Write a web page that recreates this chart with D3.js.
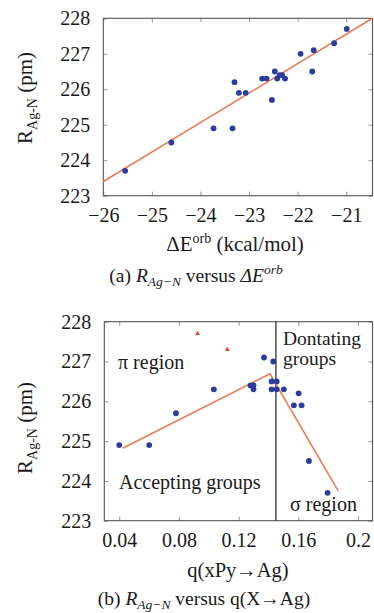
<!DOCTYPE html>
<html><head><meta charset="utf-8">
<script src="https://cdn.jsdelivr.net/npm/d3@7/dist/d3.min.js"></script>
<style>
html,body{margin:0;padding:0;background:#fff;}
</style></head>
<body>
<script>
// ---------- Panel (a) data ----------
const dEorb = [-25.55,-24.6,-23.73,-23.34,-23.3,-23.21,-23.07,-22.73,-22.64,-22.53,-22.47,-22.42,-22.37,-22.32,-22.26,-21.94,-21.7,-21.67,-21.25,-20.99];
const rA    = [223.7,224.5,224.9,224.9,226.2,225.9,225.9,226.3,226.3,225.7,226.5,226.3,226.4,226.4,226.3,227.0,226.5,227.1,227.3,227.7];
const fitAx = [-26, -20.46];
const fitAy = [223.4, 228.0];
const xTicksA = [-26,-25,-24,-23,-22,-21];
const yTicks = [223,224,225,226,227,228];

// ---------- Panel (b) data ----------
const qB = [0.04,0.0601,0.078,0.1034,0.128,0.130,0.130,0.137,0.1432,0.1421,0.1455,0.1421,0.1455,0.1503,0.1602,0.157,0.1622,0.1671,0.1796];
const rB = [224.9,224.9,225.7,226.3,226.4,226.4,226.3,227.1,227.0,226.5,226.5,226.3,226.3,226.3,226.2,225.9,225.9,224.5,223.7];
const qRed = [0.0925,0.1124];
const rRed = [227.7,227.3];
const fitBx = [0.0423,0.141,0.1867];
const fitBy = [224.82,226.69,223.75];
const divider = 0.145;
const xTicksB = [0.04,0.08,0.12,0.16,0.2];
const xTickLabelsB = ["0.04","0.08","0.12","0.16","0.2"];

const W=374,H=613;
const FONT='"Liberation Serif"';
const svg=d3.select("body").append("svg").attr("width",W).attr("height",H);

const BLUE="#2b3c9c", ORANGE="#ee7a55", RED="#e6452b";

function frame(g,x,y,xt,xfmt,box){
  const L=box.l,R=box.r,T=box.t,B=box.b;
  const axB=g.append("g").attr("transform",`translate(0,${B})`)
    .call(d3.axisBottom(x).tickValues(xt).tickSize(-4).tickPadding(12.5).tickFormat(xfmt));
  const axT=g.append("g").attr("transform",`translate(0,${T})`)
    .call(d3.axisTop(x).tickValues(xt).tickSize(-4).tickFormat(""));
  const axL=g.append("g").attr("transform",`translate(${L},0)`)
    .call(d3.axisLeft(y).tickValues(yTicks).tickSize(-4).tickPadding(13).tickFormat(d3.format("d")));
  const axR=g.append("g").attr("transform",`translate(${R},0)`)
    .call(d3.axisRight(y).tickValues(yTicks).tickSize(-4).tickFormat(""));
  [axB,axT,axL,axR].forEach(a=>{
    a.select(".domain").remove();
    a.attr("font-family",null).attr("font-size",null);
    a.selectAll(".tick line").attr("stroke","#777").attr("stroke-width",0.8);
    a.selectAll("text").attr("font-size",20);
  });
  g.append("rect").attr("x",L).attr("y",T).attr("width",R-L).attr("height",B-T)
    .attr("fill","none").attr("stroke","#555").attr("stroke-width",1.1);
  return axB;
}

function ylabel(g,cx,cy){
  const t=g.append("text").attr("transform",`translate(${cx},${cy}) rotate(-90)`)
    .attr("text-anchor","middle").attr("font-size",21);
  t.append("tspan").text("R");
  t.append("tspan").attr("font-size",14).attr("dy",5).text("Ag-N");
  t.append("tspan").attr("dy",-5).text(" (pm)");
}

// ===== Panel (a) =====
const boxA={l:103.3,r:372.5,t:18.3,b:195.7};
const xA=d3.scaleLinear().domain([-26,-20.46]).range([boxA.l,boxA.r]);
const yA=d3.scaleLinear().domain([223,228]).range([boxA.b,boxA.t]);
const gA=svg.append("g");
frame(gA,xA,yA,xTicksA,d3.format("d"),boxA);
gA.append("path").datum(d3.zip(fitAx,fitAy))
  .attr("d",d3.line().x(d=>xA(d[0])).y(d=>yA(d[1])))
  .attr("stroke",ORANGE).attr("stroke-width",1.6).attr("fill","none");
gA.selectAll("circle.pa").data(d3.zip(dEorb,rA)).join("circle")
  .attr("cx",d=>xA(d[0])).attr("cy",d=>yA(d[1])).attr("r",2.9).attr("fill",BLUE);
ylabel(gA,32,98);
{
  const t=gA.append("text").attr("x",235).attr("y",251).attr("text-anchor","middle").attr("font-size",21);
  t.append("tspan").text("ΔE");
  t.append("tspan").attr("font-size",14).attr("dy",-8).text("orb");
  t.append("tspan").attr("dy",8).text(" (kcal/mol)");
  const c=gA.append("text").attr("x",196).attr("y",282).attr("text-anchor","middle").attr("font-size",19.5);
  c.append("tspan").text("(a) ");
  c.append("tspan").attr("font-style","italic").text("R");
  c.append("tspan").attr("font-style","italic").attr("font-size",13.5).attr("dy",4).text("Ag−N");
  c.append("tspan").attr("dy",-4).text(" versus ");
  c.append("tspan").attr("font-style","italic").text("ΔE");
  c.append("tspan").attr("font-style","italic").attr("font-size",13.5).attr("dy",-8).text("orb");
}

// ===== Panel (b) =====
const boxB={l:104.3,r:372.5,t:321.7,b:520.7};
const xB=d3.scaleLinear().domain([0.03,0.2097]).range([boxB.l,boxB.r]);
const yB=d3.scaleLinear().domain([223,228]).range([boxB.b,boxB.t]);
const gB=svg.append("g");
frame(gB,xB,yB,xTicksB,(d,i)=>xTickLabelsB[i],boxB);
gB.append("line").attr("x1",xB(divider)).attr("x2",xB(divider)).attr("y1",boxB.t).attr("y2",boxB.b)
  .attr("stroke","#333").attr("stroke-width",1.3);
gB.append("path").datum(d3.zip(fitBx,fitBy))
  .attr("d",d3.line().x(d=>xB(d[0])).y(d=>yB(d[1])))
  .attr("stroke",ORANGE).attr("stroke-width",1.6).attr("fill","none");
gB.selectAll("circle.pb").data(d3.zip(qB,rB)).join("circle")
  .attr("cx",d=>xB(d[0])).attr("cy",d=>yB(d[1])).attr("r",2.9).attr("fill",BLUE);
gB.selectAll("path.tri").data(d3.zip(qRed,rRed)).join("path")
  .attr("transform",d=>`translate(${xB(d[0])},${yB(d[1])})`)
  .attr("d",d3.symbol().type(d3.symbolTriangle).size(10)).attr("fill",RED);
ylabel(gB,32,428);
gB.append("text").attr("x",118).attr("y",369).attr("font-size",20).text("π region");
gB.append("text").attr("x",283).attr("y",345).attr("font-size",19.5).text("Dontating");
gB.append("text").attr("x",283).attr("y",365).attr("font-size",19.5).text("groups");
gB.append("text").attr("x",119).attr("y",489).attr("font-size",20).text("Accepting groups");
gB.append("text").attr("x",290).attr("y",511).attr("font-size",20).text("σ region");
{
  gB.append("text").attr("x",238).attr("y",577).attr("text-anchor","middle").attr("font-size",20.5).text("q(xPy→Ag)");
  const c=gB.append("text").attr("x",204).attr("y",605).attr("text-anchor","middle").attr("font-size",19.5);
  c.append("tspan").text("(b) ");
  c.append("tspan").attr("font-style","italic").text("R");
  c.append("tspan").attr("font-style","italic").attr("font-size",13.5).attr("dy",3.5).text("Ag−N");
  c.append("tspan").attr("dy",-3.5).text(" versus q(X→Ag)");
}
svg.selectAll("text").style("font-family",FONT).style("fill","#1a1a1a");
</script>
</body></html>
